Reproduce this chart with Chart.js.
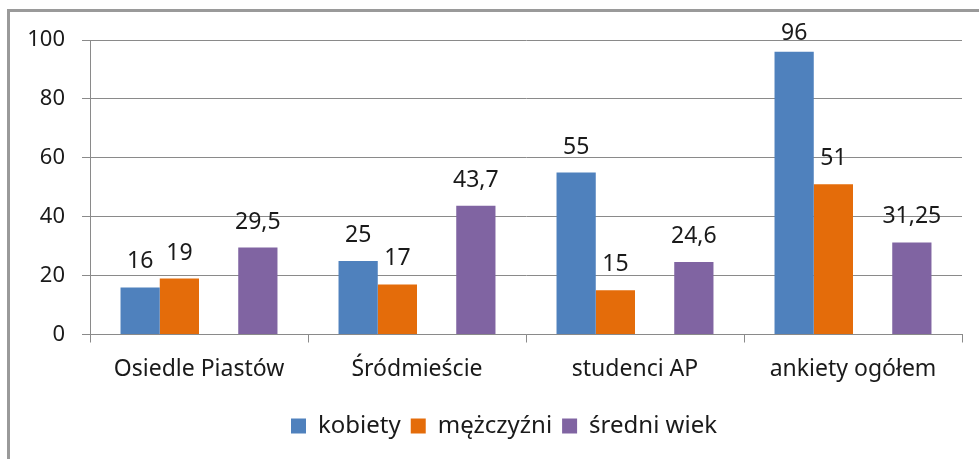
<!DOCTYPE html>
<html>
<head>
<meta charset="utf-8">
<script src="https://cdn.jsdelivr.net/npm/chart.js@4/dist/chart.umd.min.js"></script>
<style>
  html, body { margin: 0; padding: 0; background: #fff; }
  #wrap { width: 979px; height: 459px; position: relative; }
</style>
</head>
<body>
<div id="wrap"><canvas id="c" width="979" height="459"></canvas></div>
<script>
const categories = ['Osiedle Piastów', 'Śródmieście', 'studenci AP', 'ankiety ogółem'];
const kobiety = [16, 25, 55, 96];
const mezczyzni = [19, 17, 15, 51];
const pusta = [null, null, null, null];
const sredniWiek = [29.5, 43.7, 24.6, 31.25];
const seriesNames = ['kobiety', 'mężczyźni', '', 'średni wiek'];
const yTickMin = 0, yTickMax = 100, yTickStep = 20;

const FONT = "'Noto Sans', 'DejaVu Sans', sans-serif";

const framePlugin = {
  id: 'frame',
  beforeDraw(chart) {
    const ctx = chart.ctx;
    ctx.save();
    ctx.fillStyle = '#fff';
    ctx.fillRect(0, 0, chart.width, chart.height);
    ctx.fillStyle = '#9a9a9a';
    ctx.fillRect(7, 9, 3, chart.height - 9);
    ctx.fillRect(7, 9, chart.width - 7, 3);
    ctx.restore();
  }
};

const valueLabels = {
  id: 'valueLabels',
  afterDatasetsDraw(chart) {
    const ctx = chart.ctx;
    ctx.save();
    ctx.font = '23px ' + FONT;
    ctx.fillStyle = '#1a1a1a';
    ctx.textAlign = 'center';
    ctx.textBaseline = 'alphabetic';
    const top = chart.chartArea.top;
    chart.data.datasets.forEach((ds, i) => {
      if (!ds.label) return;
      const meta = chart.getDatasetMeta(i);
      meta.data.forEach((bar, j) => {
        const v = ds.data[j];
        if (v === null || v === undefined) return;
        const txt = String(v).replace('.', ',');
        const y = Math.max(bar.y - 19, top);
        ctx.fillText(txt, bar.x, y);
      });
    });
    ctx.restore();
  }
};

const legendShift = {
  id: 'legendShift',
  afterLayout(chart) {
    const lg = chart.legend;
    if (lg) { lg.left += 23; lg.right += 23; }
  }
};

new Chart(document.getElementById('c'), {
  type: 'bar',
  data: {
    labels: categories,
    datasets: [
      { label: seriesNames[0], data: kobiety, backgroundColor: '#4F81BD' },
      { label: seriesNames[1], data: mezczyzni, backgroundColor: '#E46C0A' },
      { label: seriesNames[2], data: pusta, backgroundColor: 'rgba(0,0,0,0)' },
      { label: seriesNames[3], data: sredniWiek, backgroundColor: '#8064A2' }
    ]
  },
  options: {
    responsive: false,
    animation: false,
    devicePixelRatio: 1,
    layout: { padding: { left: 0, top: 40, right: 17, bottom: 11 } },
    datasets: { bar: { categoryPercentage: 0.72, barPercentage: 1.0, borderWidth: 0 } },
    plugins: {
      tooltip: { enabled: false },
      legend: {
        position: 'bottom',
        labels: {
          font: { family: FONT, size: 24 },
          color: '#1a1a1a',
          boxWidth: 15,
          boxHeight: 15,
          padding: 10,
          filter: (item) => item.text !== ''
        }
      }
    },
    scales: {
      x: {
        grid: { display: true, offset: true, drawOnChartArea: false, drawTicks: true, tickLength: 8, color: '#8a8a8a' },
        border: { display: true, color: '#8a8a8a' },
        ticks: { font: { family: FONT, size: 23 }, color: '#1a1a1a', padding: 13, maxRotation: 0, autoSkip: false },
        afterFit(scale) { scale.height = 69.5; }
      },
      y: {
        min: yTickMin,
        max: yTickMax,
        ticks: { stepSize: yTickStep, font: { family: FONT, size: 22 }, color: '#1a1a1a', padding: 17 },
        grid: { color: '#8a8a8a', tickLength: 8, drawTicks: true },
        border: { display: true, color: '#8a8a8a' },
        afterFit(scale) { scale.width = 90; }
      }
    }
  },
  plugins: [framePlugin, valueLabels, legendShift]
});
</script>
</body>
</html>
